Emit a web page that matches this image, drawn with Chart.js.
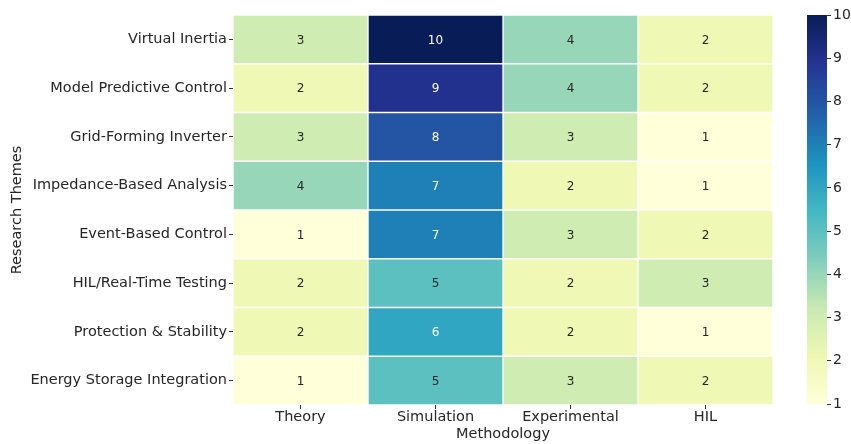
<!DOCTYPE html>
<html>
<head>
<meta charset="utf-8">
<script src="https://cdn.jsdelivr.net/npm/chart.js@4.4.1/dist/chart.umd.min.js"></script>
<style>
  html, body { margin: 0; padding: 0; background: #ffffff; }
  #wrap { position: relative; width: 851px; height: 444px; }
  #heat { position: absolute; left: 0; top: 0; }
  #bar { position: absolute; left: 760px; top: 0; }
</style>
</head>
<body>
<div id="wrap">
  <canvas id="heat" width="851" height="444"></canvas>
  <canvas id="bar" width="91" height="444"></canvas>
</div>
<script>
// Research themes (rows) and methodologies (columns)
const themes = [
  'Virtual Inertia',
  'Model Predictive Control',
  'Grid-Forming Inverter',
  'Impedance-Based Analysis',
  'Event-Based Control',
  'HIL/Real-Time Testing',
  'Protection & Stability',
  'Energy Storage Integration'
];
const methods = ['Theory', 'Simulation', 'Experimental', 'HIL'];

// Publication counts per methodology, one value per theme
const theory       = [3, 2, 3, 4, 1, 2, 2, 1];
const simulation   = [10, 9, 8, 7, 7, 5, 6, 5];
const experimental = [4, 4, 3, 2, 3, 2, 2, 3];
const hil          = [2, 2, 1, 1, 2, 3, 1, 2];
const columns = [theory, simulation, experimental, hil];

const colorbarTicks = [1, 2, 3, 4, 5, 6, 7, 8, 9, 10];
const vmin = 1, vmax = 10;

// YlGnBu colour ramp
const ramp = ['#ffffd9', '#edf8b1', '#c7e9b4', '#7fcdbb', '#41b6c4', '#1d91c0', '#225ea8', '#253494', '#081d58'];
function hexToRgb(h) {
  return [parseInt(h.slice(1, 3), 16), parseInt(h.slice(3, 5), 16), parseInt(h.slice(5, 7), 16)];
}
function rampColor(t) {
  t = Math.max(0, Math.min(1, t));
  const pos = t * (ramp.length - 1);
  const i = Math.min(Math.floor(pos), ramp.length - 2);
  const f = pos - i;
  const a = hexToRgb(ramp[i]), b = hexToRgb(ramp[i + 1]);
  const c = a.map((v, k) => Math.round(v + (b[k] - v) * f));
  return `rgb(${c[0]},${c[1]},${c[2]})`;
}
function valueColor(v) { return rampColor((v - vmin) / (vmax - vmin)); }

const FONT = "'DejaVu Sans', sans-serif";
const TEXT = '#262626';

// One floating bar per cell: column c spans [c, c+1] on the x scale
const datasets = columns.map((vals, c) => ({
  label: methods[c],
  data: vals.map(() => [c, c + 1]),
  values: vals,
  backgroundColor: vals.map(valueColor),
  borderColor: '#ffffff',
  borderWidth: 1,
  borderSkipped: false,
  grouped: false,
  barPercentage: 1,
  categoryPercentage: 1
}));

// Writes each cell's count at its centre
const cellLabels = {
  id: 'cellLabels',
  afterDatasetsDraw(chart) {
    const ctx = chart.ctx;
    ctx.save();
    ctx.font = `12px ${FONT}`;
    ctx.textAlign = 'center';
    ctx.textBaseline = 'middle';
    chart.data.datasets.forEach((ds, di) => {
      chart.getDatasetMeta(di).data.forEach((el, i) => {
        const v = ds.values[i];
        const x = (el.x + el.base) / 2;
        ctx.fillStyle = v >= 6 ? '#ffffff' : TEXT;
        ctx.fillText(String(v), x, el.y + 1);
      });
    });
    ctx.restore();
  }
};

new Chart(document.getElementById('heat'), {
  type: 'bar',
  data: { labels: themes, datasets },
  options: {
    indexAxis: 'y',
    responsive: false,
    animation: false,
    layout: { padding: { top: 15, right: 78, bottom: 0, left: 0 } },
    plugins: { legend: { display: false }, tooltip: { enabled: false } },
    scales: {
      x: {
        type: 'linear',
        min: 0,
        max: 4,
        position: 'bottom',
        afterBuildTicks(scale) {
          scale.ticks = methods.map((m, i) => ({ value: i + 0.5 }));
        },
        afterFit(scale) { scale.height = 39; },
        ticks: {
          callback: (v) => methods[Math.round(v - 0.5)],
          font: { family: FONT, size: 14.5 },
          color: TEXT,
          padding: 0,
          maxRotation: 0,
          autoSkip: false
        },
        grid: { display: true, drawOnChartArea: false, drawTicks: true, tickLength: 4, color: '#333333' },
        border: { display: false },
        title: {
          display: true,
          text: 'Methodology',
          font: { family: FONT, size: 14.5 },
          color: TEXT,
          padding: { top: 0, bottom: 1.5 }
        }
      },
      y: {
        type: 'category',
        offset: true,
        afterFit(scale) { scale.width = 233; },
        ticks: {
          font: { family: FONT, size: 14.5 },
          color: TEXT,
          padding: 2,
          autoSkip: false
        },
        grid: { display: true, offset: false, drawOnChartArea: false, drawTicks: true, tickLength: 4, color: '#333333' },
        border: { display: false },
        title: {
          display: true,
          text: 'Research Themes',
          font: { family: FONT, size: 14.5 },
          color: TEXT,
          padding: { top: 8.3, bottom: 0 }
        }
      }
    }
  },
  plugins: [cellLabels]
});

// Colour bar: a single floating bar from vmin to vmax filled with the ramp
new Chart(document.getElementById('bar'), {
  type: 'bar',
  data: {
    labels: [''],
    datasets: [{
      data: [[vmin, vmax]],
      backgroundColor(ctx) {
        const area = ctx.chart.chartArea;
        if (!area) return ramp[0];
        const ys = ctx.chart.scales.y;
        const g = ctx.chart.ctx.createLinearGradient(0, ys.getPixelForValue(vmin), 0, ys.getPixelForValue(vmax));
        for (let k = 0; k <= 40; k++) g.addColorStop(k / 40, rampColor(k / 40));
        return g;
      },
      borderWidth: 0,
      barPercentage: 1,
      categoryPercentage: 1
    }]
  },
  options: {
    responsive: false,
    animation: false,
    layout: { padding: { top: 15, bottom: 40, left: 47, right: 0 } },
    plugins: { legend: { display: false }, tooltip: { enabled: false } },
    scales: {
      x: { display: false },
      y: {
        position: 'right',
        min: vmin,
        max: vmax,
        afterBuildTicks(scale) { scale.ticks = colorbarTicks.map(v => ({ value: v })); },
        afterFit(scale) { scale.width = 24; },
        ticks: {
          font: { family: FONT, size: 14 },
          color: TEXT,
          padding: 2
        },
        grid: { display: true, drawOnChartArea: false, drawTicks: true, tickLength: 4, color: '#333333' },
        border: { display: false }
      }
    }
  }
});
</script>
</body>
</html>
